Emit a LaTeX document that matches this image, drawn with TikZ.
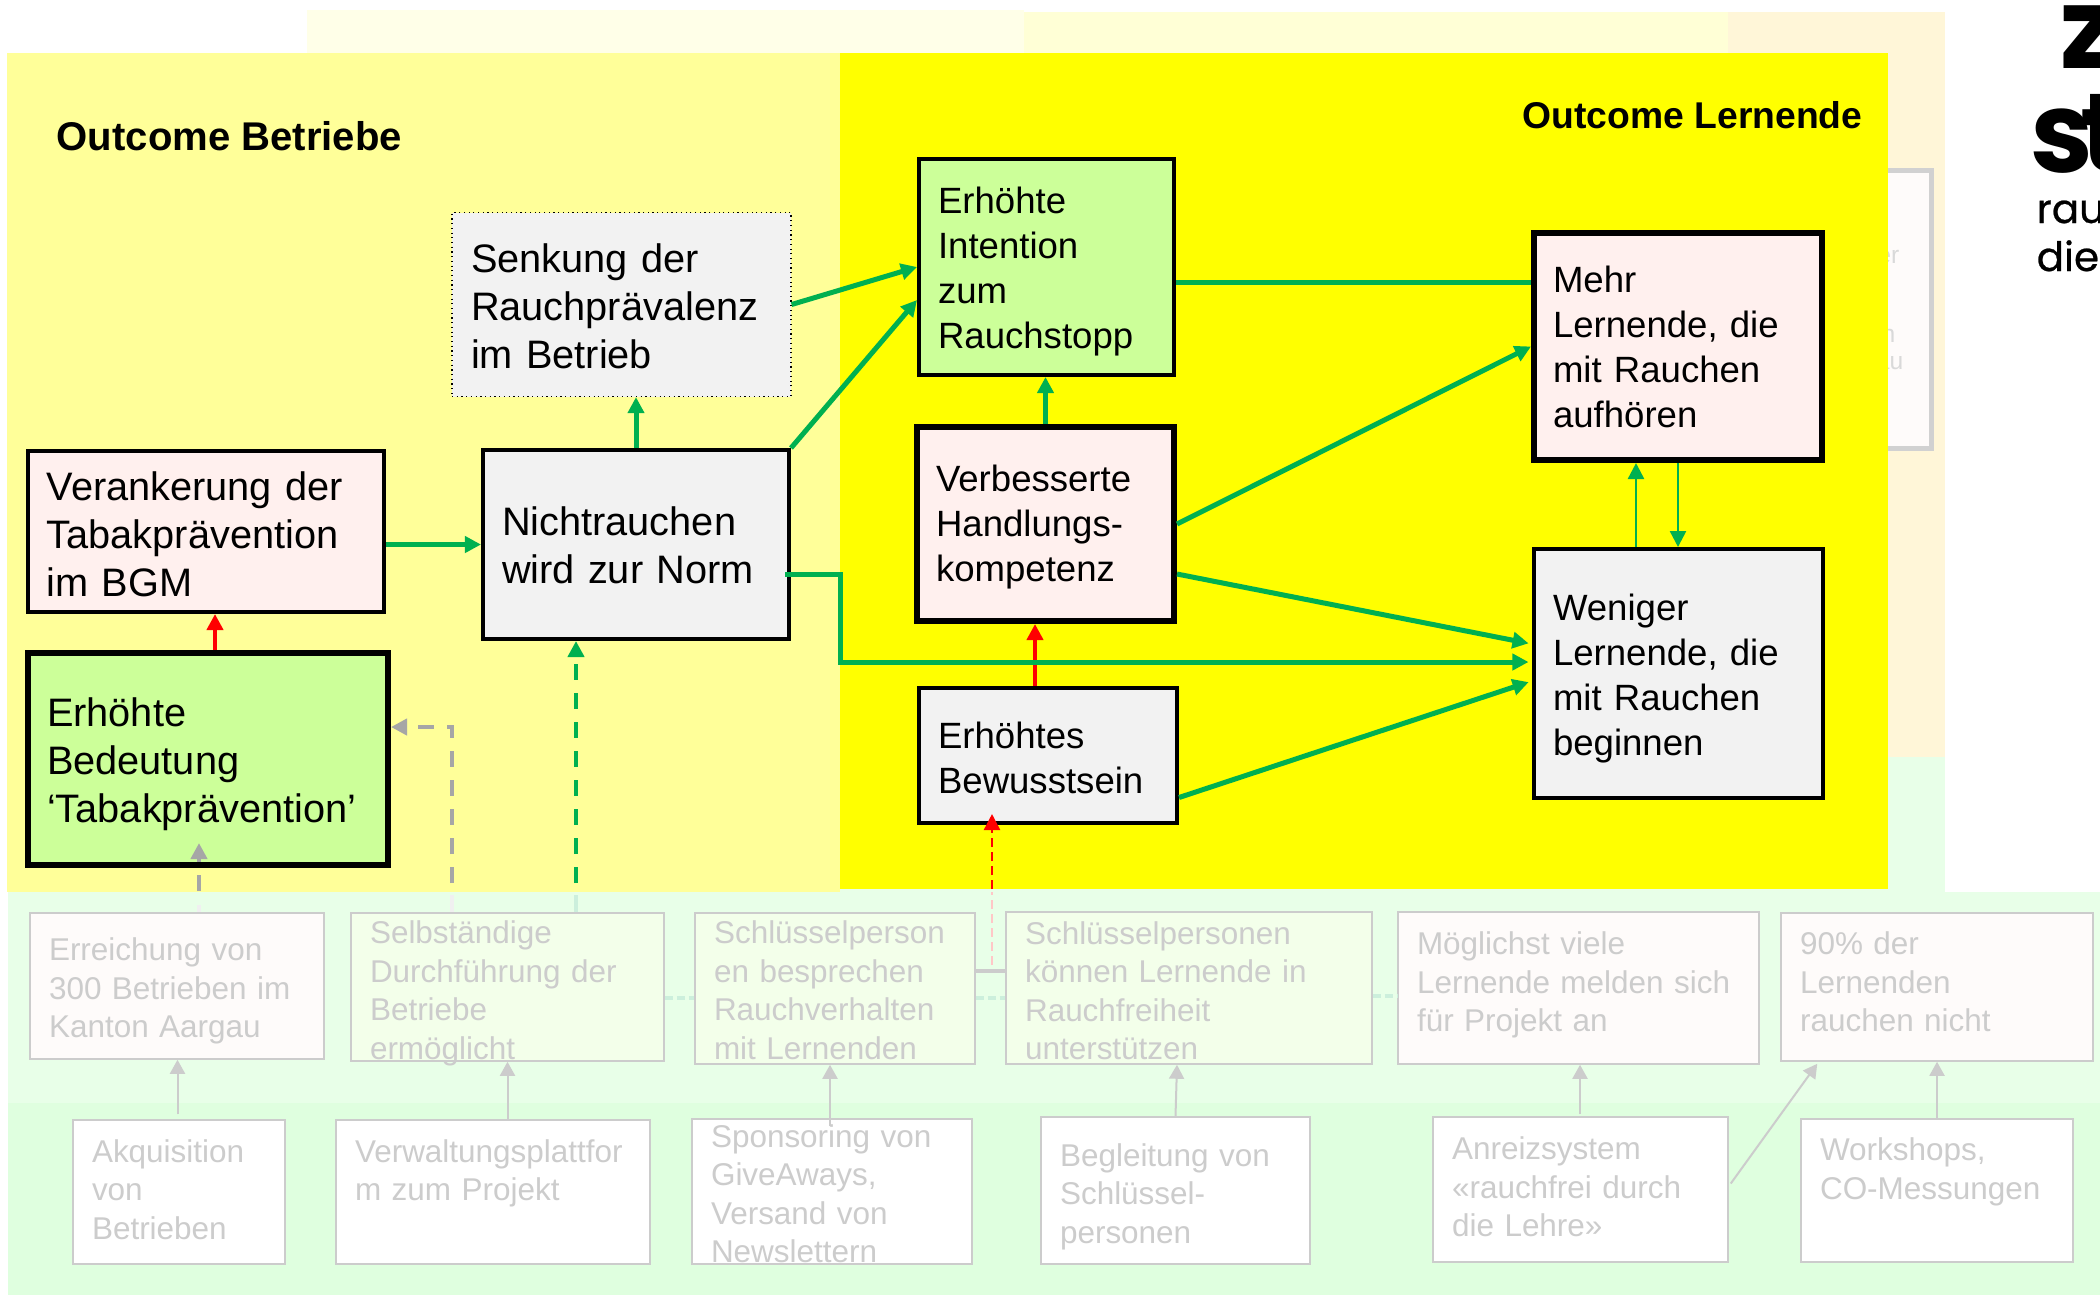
\documentclass[tikz,border=0pt]{standalone}
\usepackage{fontspec}
\setmainfont{Liberation Sans}
\newfontfamily\logofont{Poppins}
\newfontfamily\logosmall[FakeBold=0.6]{Poppins}
\usepackage{xcolor}
\usepackage{tikz}
\usetikzlibrary{arrows.meta,calc}
\definecolor{grn}{HTML}{00B050}
\definecolor{redT}{HTML}{FF0000}
\definecolor{fullY}{HTML}{FFFF00}
\definecolor{paleY}{HTML}{FFFF99}
\definecolor{backA}{HTML}{FFFFE8}
\definecolor{backB}{HTML}{FFFFD6}
\definecolor{backC}{HTML}{FFF6D8}
\definecolor{pinkF}{HTML}{FFF0EE}
\definecolor{limeF}{HTML}{CCFF99}
\definecolor{greyF}{HTML}{F2F2F2}
\definecolor{bandA}{HTML}{E8FFE8}
\definecolor{bandB}{HTML}{DFFFDF}
\definecolor{ghostF}{HTML}{FEFBFA}
\definecolor{ghostG}{HTML}{F3FFEA}
\definecolor{ghostL}{HTML}{CCCCCC}
\definecolor{tipG}{HTML}{A6A6A6}

\begin{document}
\begin{tikzpicture}
[x=0.01cm,y=-0.01cm,>={Triangle[length=0.16cm,width=0.16cm]},
bx/.style 2 args={minimum width=#1*0.01cm,minimum height=#2*0.01cm,text width=#1*0.01cm-0.38cm,
  inner xsep=0.19cm,inner ysep=-0.2cm,align=left},
tdn/.style={execute at begin node={\rule{0pt}{#1\dimexpr 0.02cm\relax}}},
tup/.style={execute at end node={\rule[-#1\dimexpr 0.02cm\relax]{0pt}{#1\dimexpr 0.02cm\relax}}},
mainA/.style={draw=black,line width=0.04cm,font=\fontsize{11.3}{13.65}\selectfont},
mainB/.style={draw=black,line width=0.04cm,font=\fontsize{10.4}{12.8}\selectfont},
fat/.style={line width=0.06cm},
low/.style={draw=ghostL,line width=0.015cm,text=ghostL,font=\fontsize{8.95}{10.95}\selectfont},
gline/.style={->,grn,line width=0.05cm},
rline/.style={->,redT,line width=0.045cm},
thin gr/.style={->,grn,line width=0.025cm},
lowline/.style={->,ghostL,line width=0.02cm,>={Triangle[length=0.14cm,width=0.15cm]}},
dashG/.style={->,line width=0.04cm,dash pattern=on 0.16cm off 0.13cm},
frag/.style={text=black!15,inner sep=0pt,anchor=east,font=\fontsize{7}{8}\selectfont},
logoB/.style={inner sep=0pt,anchor=base west,font=\logofont\bfseries\fontsize{32}{32}\selectfont},
logoS/.style={inner sep=0pt,anchor=base west,font=\logosmall\fontsize{11.5}{12}\selectfont}]
\useasboundingbox (0,0) rectangle (2100,1296);
\clip (0,0) rectangle (2100,1296);

\fill[backA] (307,10) rectangle (1024,54);
\fill[backB] (1024,12) rectangle (1728,54);
\fill[backC] (1728,12) rectangle (1945,760);
\fill[bandA] (840,757) rectangle (1945,892);
\node (vgho) at (1815,309)[draw=black!18,fill=ghostF,line width=0.05cm,minimum width=232*0.01cm,minimum height=278*0.01cm] {};
\node (f1) at (1900,257)[frag] {er};
\node (f2) at (1896,336)[frag] {n};
\node (f3) at (1904,363)[frag] {au};
\fill[paleY] (7,53) rectangle (840,892);
\fill[fullY] (840,53) rectangle (1888,889);
\fill[bandA] (8,892) rectangle (2100,1103);
\fill[bandB] (8,1103) rectangle (2100,1295);

\node (tb) at (56,136)[anchor=west,inner sep=0pt,font=\bfseries\fontsize{11.4}{13}\selectfont] {Outcome Betriebe};
\node (tl) at (1863,115)[anchor=east,inner sep=0pt,font=\bfseries\fontsize{10.6}{13}\selectfont] {Outcome Lernende};

\node (vank) at (206,531.5)[bx={356.5}{161},mainA,tdn=17,fill=pinkF] {Verankerung der\\Tabakprävention\\im BGM};
\node (vbed) at (208,759)[bx={360}{212},mainA,fat,tdn=19.5,fill=limeF] {Erhöhte\\Bedeutung\\‘Tabakprävention’};
\node (vnicht) at (636,544.5)[bx={306}{189},mainA,tdn=15.5,fill=greyF] {Nichtrauchen\\wird zur Norm};
\node (vsenk) at (621.5,304.5)[bx={339}{184},mainA,tdn=16,fill=greyF,line width=0.012cm,densely dotted] {Senkung der\\Rauchprävalenz\\im Betrieb};
\node (vint) at (1046.5,267)[bx={255}{216},mainB,tdn=17.4,fill=limeF] {Erhöhte\\Intention\\zum\\Rauchstopp};
\node (vhand) at (1045.5,524)[bx={257}{194},mainB,fat,tdn=16.4,fill=pinkF] {Verbesserte\\Handlungs-\\kompetenz};
\node (vbew) at (1048,755.5)[bx={258}{135},mainB,tdn=15.4,fill=greyF] {Erhöhtes\\Bewusstsein};
\node (vmehr) at (1678,346.5)[bx={288}{227},mainB,fat,fill=pinkF] {Mehr\\Lernende, die\\mit Rauchen\\aufhören};
\node (vwen) at (1678.5,673.5)[bx={289}{249},mainB,tdn=17.9,fill=greyF] {Weniger\\Lernende, die\\mit Rauchen\\beginnen};

\coordinate (cg1) at (199,891);
\coordinate (cg2) at (199,843);
\coordinate (cg3) at (452,883);
\coordinate (cg4) at (576,883);
\coordinate (cr1) at (992,889);
\coordinate (cn1) at (840,662);
\coordinate (pg1) at (199,905);
\coordinate (pg2) at (199,920);
\coordinate (pg3) at (452,895);
\coordinate (pg4) at (452,912);
\coordinate (pg5) at (576,895);
\coordinate (pg6) at (576,912);
\coordinate (pr1) at (992,965);
\coordinate (pr2) at (992,892);

\path (pg1) edge [draw,black!6,line width=0.04cm] (pg2);
\path (pg3) edge [draw,black!6,line width=0.04cm] (pg4);
\path (pg5) edge [draw,grn!20,line width=0.04cm] (pg6);
\path (pr1) edge [draw,redT!22,line width=0.025cm,dash pattern=on 0.09cm off 0.05cm] (pr2);

\node (lerr) at (177,986)[bx={294}{146},low,tdn=16.5,fill=ghostF] {Erreichung von\\300 Betrieben im\\Kanton Aargau};
\node (lsel) at (507.5,987)[bx={313}{148},low,tdn=17.5,fill=ghostG] {Selbständige\\Durchführung der\\Betriebe\\ermöglicht};
\node (lsch) at (835,988.5)[bx={280}{151},low,tdn=13,fill=ghostG] {Schlüsselperson\\en besprechen\\Rauchverhalten\\mit Lernenden};
\node (lper) at (1189,988)[bx={366}{152},low,tdn=14,fill=ghostG] {Schlüsselpersonen\\können Lernende in\\Rauchfreiheit\\unterstützen};
\node (lmoe) at (1578.5,988)[bx={361}{152},low,tup=6.3,fill=ghostF] {Möglichst viele\\Lernende melden sich\\für Projekt an};
\node (lneu) at (1937,987)[bx={312}{148},low,tup=5,fill=ghostF] {90\% der\\Lernenden\\rauchen nicht};

\node (uakq) at (179,1192)[bx={212}{144},low,tup=2.5,fill=white] {Akquisition\\von\\Betrieben};
\node (uver) at (493,1192)[bx={314}{144},low,tup=2.5,fill=white] {Verwaltungsplattfor\\m zum Projekt\\~};
\node (uspo) at (832,1191.5)[bx={280}{145},low,tdn=13.5,fill=white] {Sponsoring von\\GiveAways,\\Versand von\\Newslettern};
\node (ubeg) at (1175.5,1190.5)[bx={269}{147},low,tdn=17.5,fill=white] {Begleitung von\\Schlüssel-\\personen};
\node (uanr) at (1580.5,1189.5)[bx={295}{145},low,tup=2.5,fill=white] {Anreizsystem\\«rauchfrei durch\\die Lehre»};
\node (uwor) at (1937,1190.5)[bx={272}{143},low,tup=2.5,fill=white] {Workshops,\\CO-Messungen\\~};

\path ($(lsel.east)+(0,11)$) edge [draw,grn!20,line width=0.04cm,dash pattern=on 0.08cm off 0.04cm] ($(lsch.west)+(0,9.5)$);
\path ($(lsch.east)+(0,9.5)$) edge [draw,grn!20,line width=0.04cm,dash pattern=on 0.08cm off 0.04cm] ($(lper.west)+(0,10)$);
\path ($(lsch.east)+(0,-17.5)$) edge [draw,ghostL,line width=0.04cm] ($(lper.west)+(0,-17)$);
\path ($(lper.east)+(0,8)$) edge [draw,grn!20,line width=0.04cm,dash pattern=on 0.08cm off 0.04cm] ($(lmoe.west)+(0,8)$);

\path ($(uakq.north)+(-1.5,-5)$) edge [draw,lowline] ($(lerr.south)+(0.5,0)$);
\path (uver.north -| lsel.south) edge [draw,lowline] (lsel.south);
\path ($(uspo.north)+(-2,8)$) edge [draw,lowline] ($(lsch.south)+(-5,0)$);
\path (ubeg.north) edge [draw,lowline] ($(lper.south)+(-12,0)$);
\path ($(uanr.north)+(-0.5,-2)$) edge [draw,lowline] ($(lmoe.south)+(1.5,0)$);
\path ($(uanr.east)+(2,-6)$) edge [draw,lowline] ($(lneu.south west)+(37,2)$);
\path (uwor.north) edge [draw,lowline] (lneu.south);

\path ($(vbed.north)+(7,0)$) edge [draw,rline] ($(vank.south)+(9,0)$);
\path ($(vbew.north)+(-13,0)$) edge [draw,rline] ($(vhand.south)+(-10.5,0)$);
\path (cr1) edge [draw,->,redT,line width=0.025cm,dash pattern=on 0.09cm off 0.05cm] ($(vbew.south)+(-56,-11)$);

\path (vank.east |- vnicht.west) edge [draw,gline] (vnicht.west);
\path (vnicht.north) edge [draw,gline] (vnicht.north |- vsenk.south);
\path (vsenk.east) edge [draw,gline] (vint.west);
\path (vnicht.north east) edge [draw,gline] ($(vint.west)+(0,33)$);
\path (vhand.north) edge [draw,gline] (vhand.north |- vint.south);
\path ($(vint.east)+(0,15)$) edge [draw,gline,-] ($(vmehr.west)+(0,-64.5)$);
\path (vhand.east) edge [draw,gline] (vmehr.west);
\path ($(vhand.east)+(0,50)$) edge [draw,gline,shorten >=1pt] ($(vwen.west)+(0,-29.5)$);
\path ($(vbew.east)+(0,42)$) edge [draw,gline,shorten >=1pt] ($(vwen.west)+(0,7.5)$);
\draw[gline,shorten >=1pt] ($(vnicht.east)+(-6,30)$) -| (cn1) -- (vwen.west |- cn1);
\path ($(vwen.north)+(-42.5,0)$) edge [draw,thin gr] ($(vmehr.south)+(-42,0)$);
\path (vmehr.south) edge [draw,thin gr] (vwen.north -| vmehr.south);

\path (cg1) edge [draw,tipG,dashG] (cg2);
\draw[tipG,dashG] (cg3) |- ($(vbed.east)+(0,-32)$);
\path (cg4) edge [draw,grn,dashG] (cg4 |- vnicht.south);

\node (lz) at (2060,68)[logoB] {z};
\node (ls) at (2030,172)[logoB] {s\kern-0.12em t};
\node (lr) at (2036,223)[logoS] {rau};
\node (ld) at (2036,271)[logoS] {die};

\end{tikzpicture}
\end{document}
